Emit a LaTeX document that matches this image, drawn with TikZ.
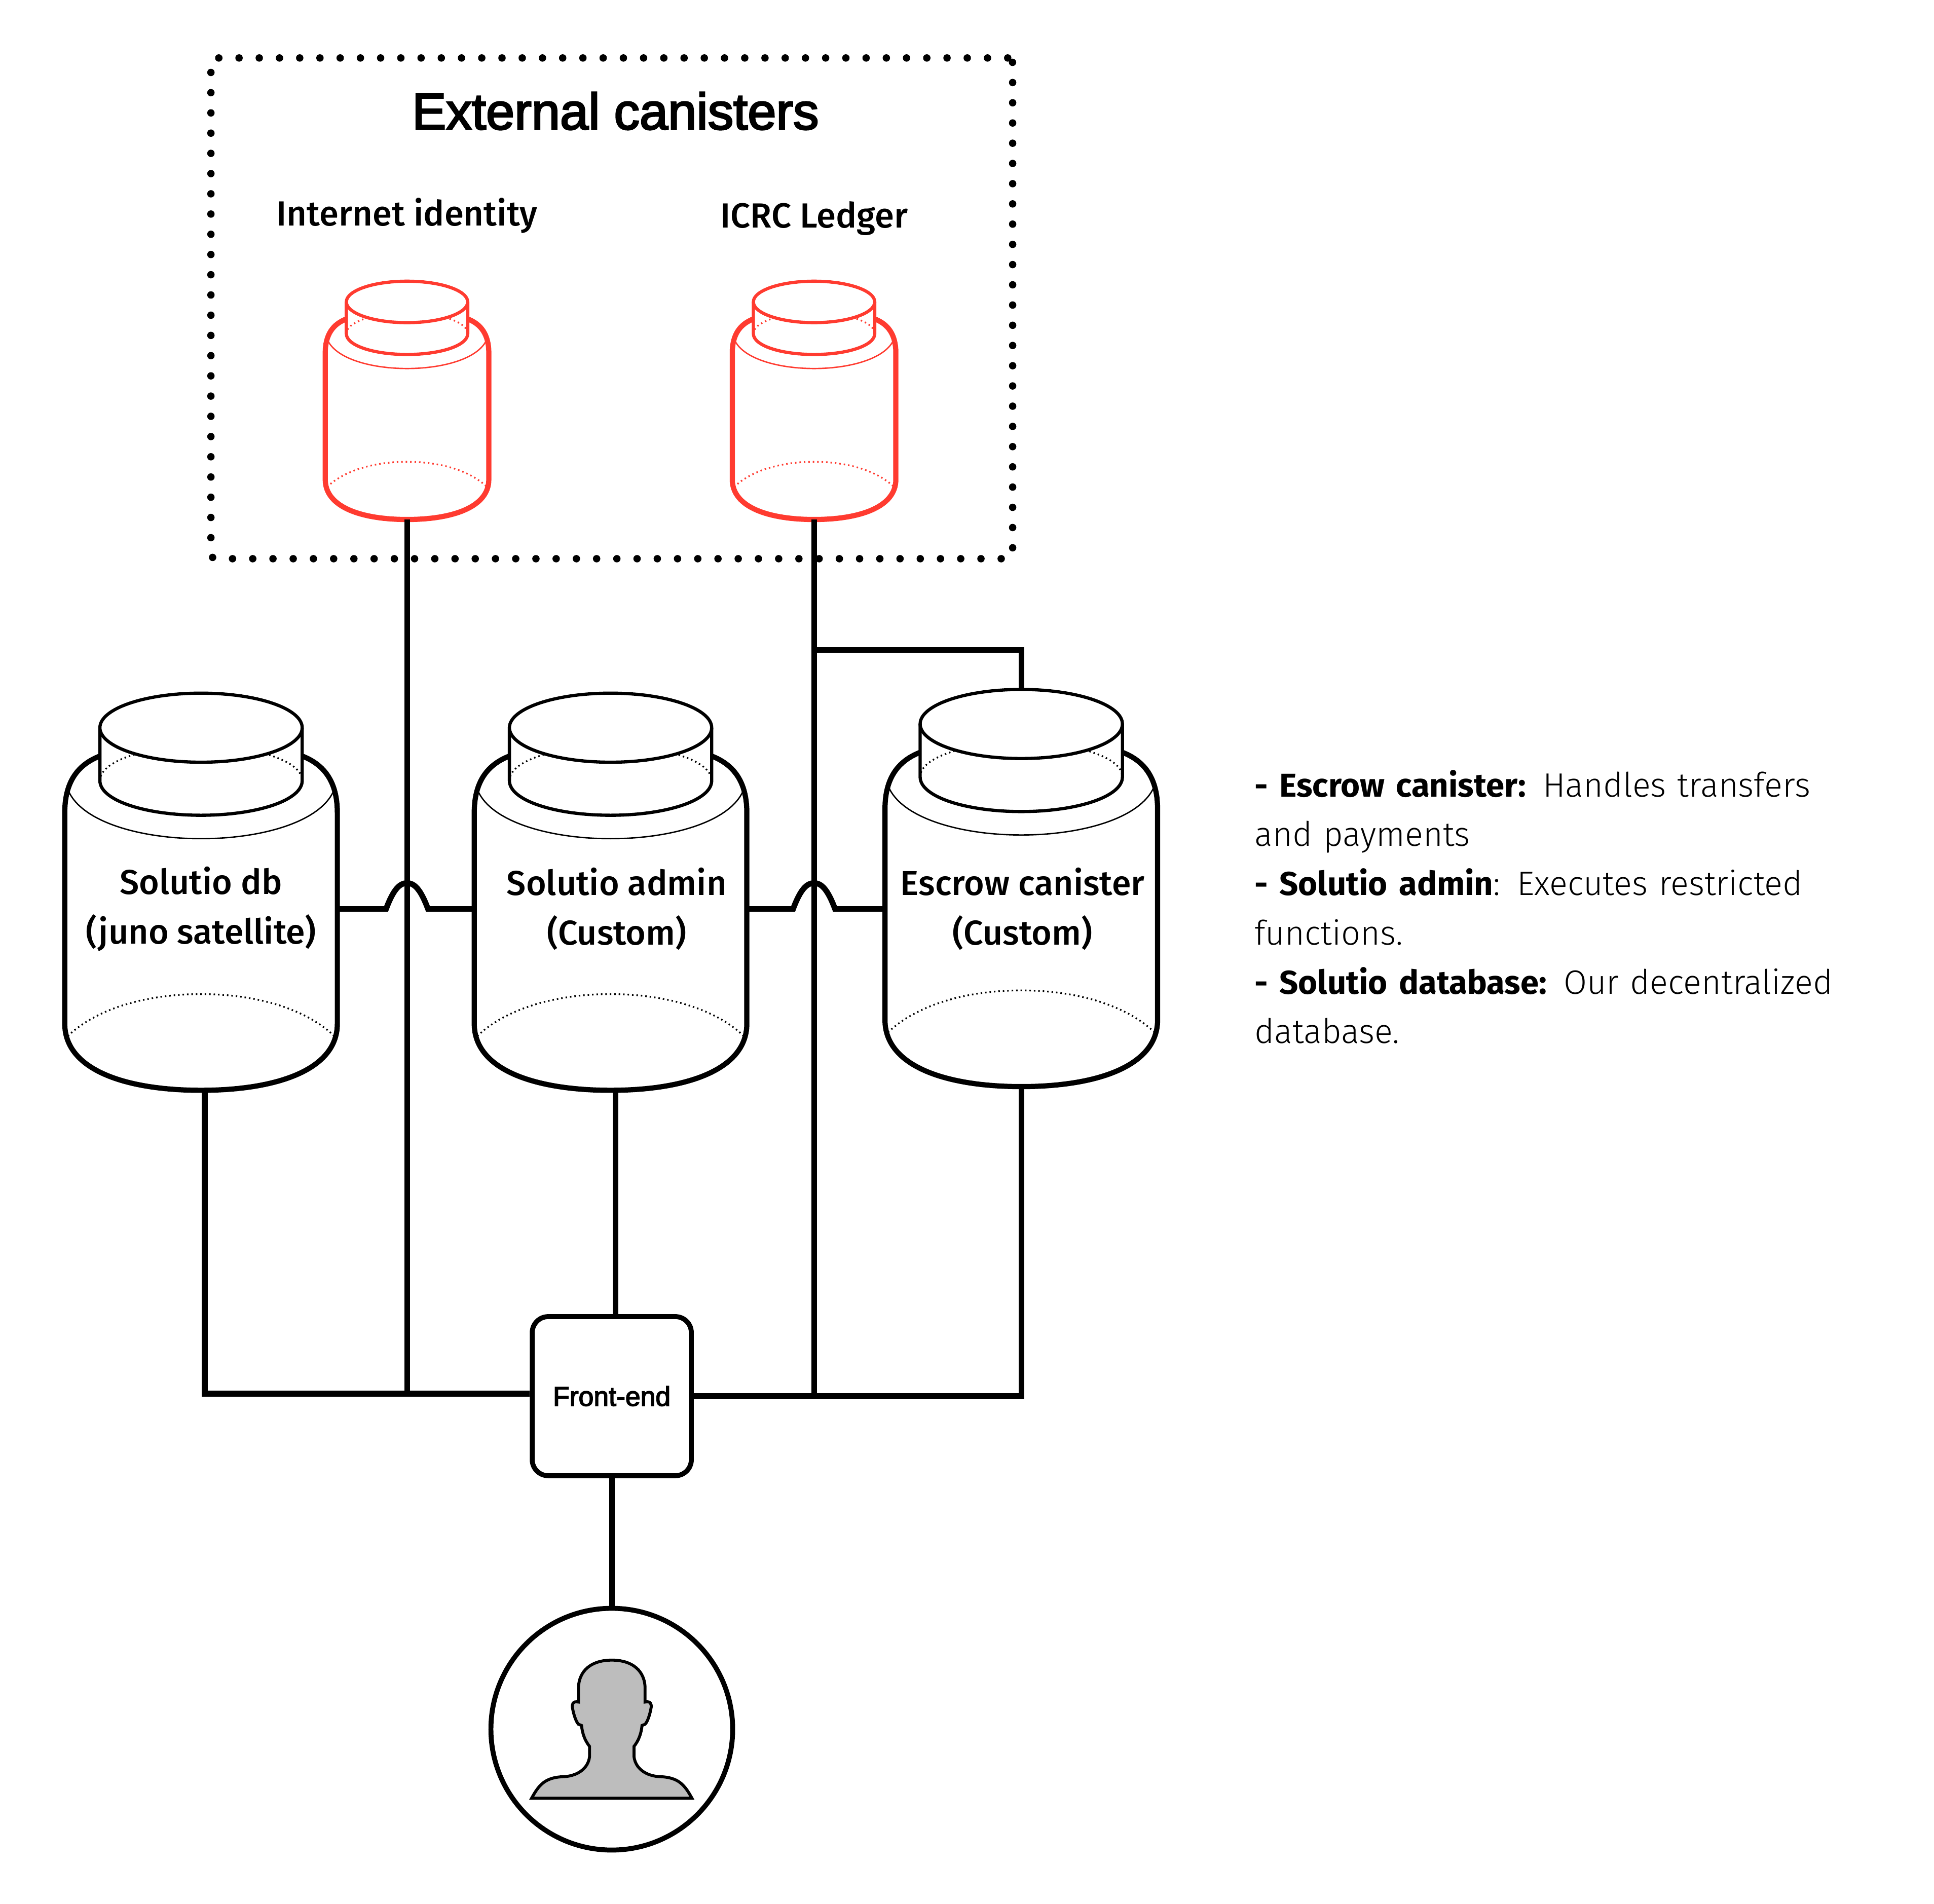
\documentclass[tikz,border=0pt]{standalone}
\usepackage{fontspec}
\setmainfont{Fira Sans}
\newfontfamily\mediumfont{Fira Sans Medium}
\newfontfamily\lightfont[WordSpace=0.8]{Fira Sans Light}
\newfontfamily\titlefont[FakeBold=3]{Liberation Sans}
\usetikzlibrary{positioning}
\definecolor{canisterred}{HTML}{FF3B30}
\definecolor{persongray}{HTML}{BDBDBD}
\tikzset{
  wire/.style={line width=4.6pt},
  jarlabel/.style={inner sep=0pt,minimum width=224pt,minimum height=294pt,align=center,
    font=\mediumfont\fontsize{28}{40}\selectfont},
  jarbody/.style={line width=4.2pt},
  jarlid/.style={line width=2.6pt},
  jarrim/.style={line width=1.1pt},
  jardots/.style={line width=1.4pt,dash pattern=on 1.2pt off 2.4pt},
  toplabel/.style={inner sep=0pt,font=\mediumfont\fontsize{28.3}{40}\selectfont}
}
\newcommand{\legendhead}[1]{{\normalfont\bfseries\fontsize{26.8}{40}\selectfont #1}}
% x y scale colour
\newcommand{\canister}[4]{
\begin{scope}[shift={(#1,#2)},scale=#3,draw=#4]
\draw[jarbody] (-82,51) .. controls (-100,58) and (-110.5,72) .. (-110.5,97) -- (-110.5,268)
  .. controls (-110.5,306) and (-60,322) .. (0,322)
  .. controls (60,322) and (110.5,306) .. (110.5,268) -- (110.5,97)
  .. controls (110.5,72) and (100,58) .. (82,51);
\draw[jarrim] (-108,78) .. controls (-98,104) and (-50,118) .. (0,118)
  .. controls (50,118) and (98,104) .. (108,78);
\draw[jardots] (-108,278) .. controls (-85,256) and (-45,244) .. (0,244)
  .. controls (45,244) and (85,256) .. (108,278);
\draw[jardots] (-82,71) .. controls (-82,55) and (-45,43) .. (0,43)
  .. controls (45,43) and (82,55) .. (82,71);
\draw[jarlid] (-82,28) -- (-82,71) .. controls (-82,87) and (-45,99) .. (0,99)
  .. controls (45,99) and (82,87) .. (82,71) -- (82,28);
\draw[jarlid,fill=white] (0,28) ellipse (82 and 28);
\end{scope}
}

\begin{document}
\begin{tikzpicture}[x=1pt,y=-1pt]
\useasboundingbox (0,0) rectangle (1568,1543.4);
\canister{330}{228}{0.6}{canisterred}
\canister{660}{228}{0.6}{canisterred}
\canister{163}{562}{1}{black}
\canister{495}{562}{1}{black}
\canister{828}{559}{1}{black}
\node[draw,line width=6pt,line cap=round,dash pattern=on 0pt off 16.4pt,rounded corners=4pt,
  minimum width=650pt,minimum height=406pt,inner sep=0pt] (external) at (496,250) {};
\node[inner sep=0pt,font=\titlefont\fontsize{41.5}{42}\selectfont] (title) at (499,90) {External canisters};
\node[toplabel] (identitylabel) at (330,175) {Internet identity};
\node[toplabel] (ledgerlabel) at (660,177) {ICRC Ledger};
\node[inner sep=0pt,minimum width=135pt,minimum height=176pt] (identity) at (330,333) {};
\node[inner sep=0pt,minimum width=135pt,minimum height=176pt] (ledger) at (660,333) {};
\node[jarlabel] (db) at (163,737) {Solutio db\\(juno satellite)};
\node[jarlabel] (admin) at (500,737) {Solutio admin\\(Custom)};
\node[jarlabel] (escrow) at (829,737) {Escrow canister\\(Custom)};
\coordinate (escrowtop) at (828,559);
\coordinate (ledgerfork) at (660,527);
\node[draw,line width=4pt,rounded corners=13pt,minimum size=129pt,inner sep=0pt,
  font=\titlefont\fontsize{22}{24}\selectfont] (frontend) at (496,1132) {Front-end};
\node[draw,circle,line width=4pt,minimum size=196pt,inner sep=0pt] (user) at (496,1402) {};
\coordinate (identityjoin) at (330,1130);
\coordinate (ledgerjoin) at (660,1132);
\coordinate (firstjump) at (330,716);
\coordinate (secondjump) at (660,716);
\node[anchor=north west,inner sep=0pt,text width=500pt,align=left,
  font=\lightfont\fontsize{27.4}{40}\selectfont] (legend) at (1017,624) {\legendhead{- Escrow canister:} Handles transfers\\
and payments\\
\legendhead{- Solutio admin}: Executes restricted\\
functions.\\
\legendhead{- Solutio database:} Our decentralized\\
database.};
% connectors
\draw[wire] ([xshift=3pt]db.south) |- ([yshift=2pt]frontend.west);
\draw[wire] (identity.south) -- (identityjoin);
\draw[wire] (ledger.south) -- (ledgerjoin);
\draw[wire] (ledgerfork) -| (escrowtop);
\draw[wire] ([xshift=-1pt]admin.south) -- ([xshift=3pt]frontend.north);
\draw[wire] ([xshift=-1pt,yshift=3pt]escrow.south) |- (frontend.east);
\draw[wire] (frontend.south) -- (user.north);
\draw[wire] (db.east) -- ([xshift=-17pt,yshift=-21pt]firstjump)
  .. controls ([xshift=-11pt,yshift=-5pt]firstjump) and ([xshift=-6pt]firstjump) .. (firstjump)
  .. controls ([xshift=6pt]firstjump) and ([xshift=11pt,yshift=-5pt]firstjump) .. ([xshift=17pt,yshift=-21pt]firstjump)
  -- ([xshift=-4pt]admin.west);
\draw[wire] ([xshift=-5pt]admin.east) -- ([xshift=-17pt,yshift=-21pt]secondjump)
  .. controls ([xshift=-11pt,yshift=-5pt]secondjump) and ([xshift=-6pt]secondjump) .. (secondjump)
  .. controls ([xshift=6pt]secondjump) and ([xshift=11pt,yshift=-5pt]secondjump) .. ([xshift=17pt,yshift=-21pt]secondjump)
  -- ([xshift=-1pt]escrow.west);
% person
\begin{scope}[shift={(user.center)}]
\draw[fill=persongray,line width=2.4pt] (0,-56) .. controls (-17,-56) and (-27,-47) .. (-27,-33) -- (-27,-22)
  .. controls (-32,-23) and (-32,-20) .. (-32,-18) .. controls (-31,-12) and (-29,-6) .. (-27,-4) -- (-24.5,-3)
  .. controls (-24,3) and (-22,9) .. (-18,14) -- (-18,22) .. controls (-19,32) and (-28,38) .. (-39,38.5)
  .. controls (-54,39) and (-59,45) .. (-65,56) -- (65,56)
  .. controls (59,45) and (54,39) .. (39,38.5) .. controls (28,38) and (19,32) .. (18,22) -- (18,14)
  .. controls (22,9) and (24,3) .. (24.5,-3) -- (27,-4) .. controls (29,-6) and (31,-12) .. (32,-18)
  .. controls (32,-20) and (32,-23) .. (27,-22) -- (27,-33) .. controls (27,-47) and (17,-56) .. (0,-56) -- cycle;
\end{scope}
\end{tikzpicture}
\end{document}
